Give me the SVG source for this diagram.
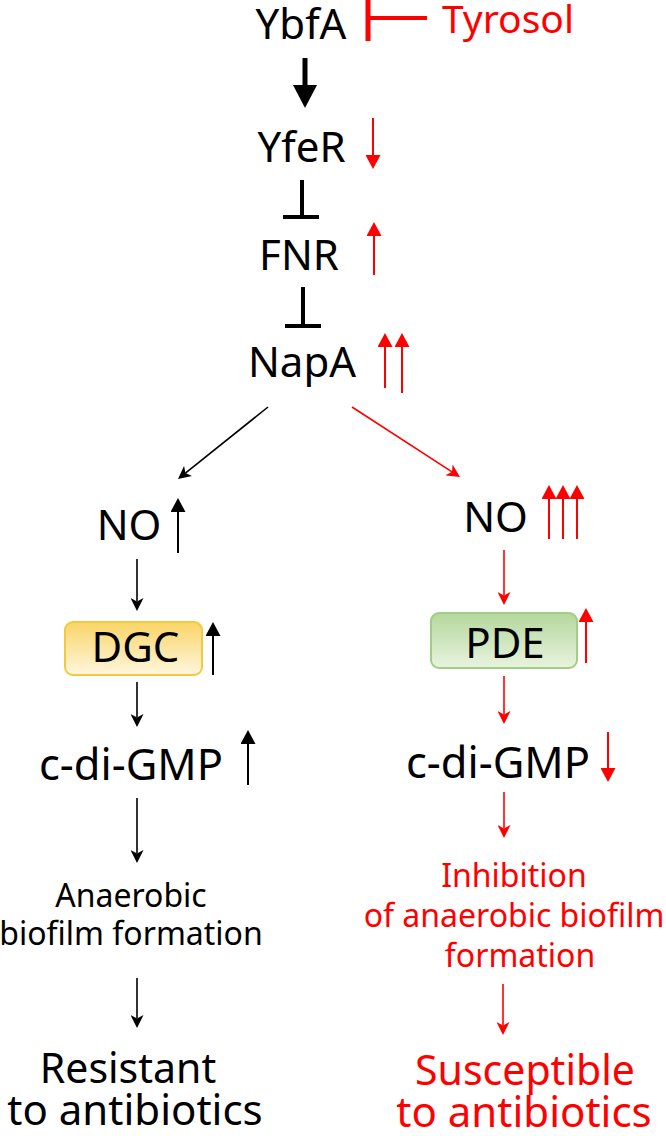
<svg xmlns="http://www.w3.org/2000/svg" width="666" height="1136" viewBox="0 0 666 1136">
<style>
text{font-family:"Noto Sans","Open Sans","Liberation Sans",sans-serif;text-anchor:middle;}
.k{fill:#000;}
.r{fill:#FF0000;}
.big{font-size:42px;}
.sm{font-size:32px;}
.lk{stroke:#000;fill:none;}
.lr{stroke:#FF0000;fill:none;}
.flow{stroke-width:1.6;}
.ind{stroke-width:2;}
</style>
<defs>
<linearGradient id="gY" x1="0" y1="0" x2="0" y2="1">
<stop offset="0" stop-color="#F9D467"/>
<stop offset="1" stop-color="#FFF7DE"/>
</linearGradient>
<linearGradient id="gG" x1="0" y1="0" x2="0" y2="1">
<stop offset="0" stop-color="#B5D79C"/>
<stop offset="1" stop-color="#E8F3DF"/>
</linearGradient>
<marker id="hBig" markerUnits="userSpaceOnUse" markerWidth="23" markerHeight="24" refX="1" refY="12" orient="auto"><path d="M0,0 L23,12 L0,24 Z" fill="#000"/></marker>
<marker id="iK" markerUnits="userSpaceOnUse" markerWidth="14" markerHeight="15" refX="1" refY="7.5" orient="auto"><path d="M0,0 L14,7.5 L0,15 Z" fill="#000"/></marker>
<marker id="iR" markerUnits="userSpaceOnUse" markerWidth="14" markerHeight="15" refX="1" refY="7.5" orient="auto"><path d="M0,0 L14,7.5 L0,15 Z" fill="#FF0000"/></marker>
<marker id="fK" markerUnits="userSpaceOnUse" markerWidth="13" markerHeight="13" refX="3.5" refY="6.5" orient="auto"><path d="M0,0 L13,6.5 L0,13 L3.5,6.5 Z" fill="#000"/></marker>
<marker id="fR" markerUnits="userSpaceOnUse" markerWidth="13" markerHeight="13" refX="3.5" refY="6.5" orient="auto"><path d="M0,0 L13,6.5 L0,13 L3.5,6.5 Z" fill="#FF0000"/></marker>
</defs>

<g id="connectors">
<line class="lr" x1="368" y1="0" x2="368" y2="41" stroke-width="5"/>
<line class="lr" x1="368" y1="18" x2="427" y2="18" stroke-width="4"/>
<line class="lk" x1="305" y1="58" x2="305" y2="86" stroke-width="5" marker-end="url(#hBig)"/>
<line class="lk" x1="302" y1="180" x2="302" y2="217" stroke-width="4"/>
<line class="lk" x1="283" y1="217" x2="319" y2="217" stroke-width="4"/>
<line class="lk" x1="303" y1="287" x2="303" y2="326" stroke-width="4"/>
<line class="lk" x1="285" y1="326" x2="321" y2="326" stroke-width="4"/>
<line class="lk flow" x1="268" y1="407" x2="185.4" y2="473.1" marker-end="url(#fK)"/>
<line class="lr flow" x1="352" y1="407" x2="452" y2="471.8" marker-end="url(#fR)"/>
<line class="lk flow" x1="137" y1="559" x2="137" y2="601.5" marker-end="url(#fK)"/>
<line class="lk flow" x1="137" y1="682" x2="137" y2="717.5" marker-end="url(#fK)"/>
<line class="lk flow" x1="137" y1="798" x2="137" y2="853.5" marker-end="url(#fK)"/>
<line class="lk flow" x1="137" y1="978" x2="137" y2="1018.5" marker-end="url(#fK)"/>
<line class="lr flow" x1="504" y1="550" x2="504" y2="595.5" marker-end="url(#fR)"/>
<line class="lr flow" x1="504" y1="676" x2="504" y2="714.5" marker-end="url(#fR)"/>
<line class="lr flow" x1="504" y1="792" x2="504" y2="828.5" marker-end="url(#fR)"/>
<line class="lr flow" x1="503" y1="984" x2="503" y2="1025.5" marker-end="url(#fR)"/>
</g>

<g id="indicators">
<line class="lr ind" x1="373" y1="118" x2="373" y2="156" marker-end="url(#iR)"/>
<line class="lr ind" x1="374" y1="275" x2="374" y2="235" marker-end="url(#iR)"/>
<line class="lr ind" x1="385" y1="388" x2="385" y2="346" marker-end="url(#iR)"/>
<line class="lr ind" x1="402" y1="393" x2="402" y2="346" marker-end="url(#iR)"/>
<line class="lk ind" x1="178" y1="553" x2="178" y2="511" marker-end="url(#iK)"/>
<line class="lk ind" x1="213" y1="675" x2="213" y2="635" marker-end="url(#iK)"/>
<line class="lk ind" x1="248" y1="785" x2="248" y2="743" marker-end="url(#iK)"/>
<line class="lr ind" x1="549" y1="539" x2="549" y2="498" marker-end="url(#iR)"/>
<line class="lr ind" x1="563" y1="539" x2="563" y2="498" marker-end="url(#iR)"/>
<line class="lr ind" x1="577" y1="539" x2="577" y2="498" marker-end="url(#iR)"/>
<line class="lr ind" x1="586" y1="663" x2="586" y2="621" marker-end="url(#iR)"/>
<line class="lr ind" x1="608" y1="732" x2="608" y2="769" marker-end="url(#iR)"/>
</g>

<g id="YbfA"><text class="k big" x="301" y="39">YbfA</text></g>
<g id="Tyrosol"><text class="r" x="508" y="33" font-size="39">Tyrosol</text></g>
<g id="YfeR"><text class="k big" x="301.5" y="162">YfeR</text></g>
<g id="FNR"><text class="k big" x="299" y="270">FNR</text></g>
<g id="NapA"><text class="k big" x="302" y="377">NapA</text></g>

<g id="NO_left"><text class="k big" x="129" y="540">NO</text></g>
<g id="DGC">
<rect x="65" y="622" width="137" height="53" rx="8" fill="url(#gY)" stroke="#F3C93F" stroke-width="2"/>
<text class="k big" x="135.5" y="662">DGC</text>
</g>
<g id="cdiGMP_left"><text class="k" x="131" y="780" font-size="44" textLength="184" lengthAdjust="spacingAndGlyphs">c-di-GMP</text></g>
<g id="anaerobic_left">
<text class="k sm" x="131" y="907">Anaerobic</text>
<text class="k sm" x="131" y="945">biofilm formation</text>
</g>
<g id="resistant">
<text class="k" x="128" y="1083" font-size="41">Resistant</text>
<text class="k big" x="135" y="1125">to antibiotics</text>
</g>

<g id="NO_right"><text class="k big" x="495.5" y="532">NO</text></g>
<g id="PDE">
<rect x="431" y="613" width="146" height="55" rx="8" fill="url(#gG)" stroke="#A3CD86" stroke-width="2"/>
<text class="k big" x="505" y="658">PDE</text>
</g>
<g id="cdiGMP_right"><text class="k" x="498" y="778" font-size="44" textLength="184" lengthAdjust="spacingAndGlyphs">c-di-GMP</text></g>
<g id="inhibition">
<text class="r sm" x="514" y="887">Inhibition</text>
<text class="r sm" x="514" y="927">of anaerobic biofilm</text>
<text class="r sm" x="520" y="967">formation</text>
</g>
<g id="susceptible">
<text class="r" x="525" y="1085" font-size="41">Susceptible</text>
<text class="r big" x="524" y="1127">to antibiotics</text>
</g>
</svg>
